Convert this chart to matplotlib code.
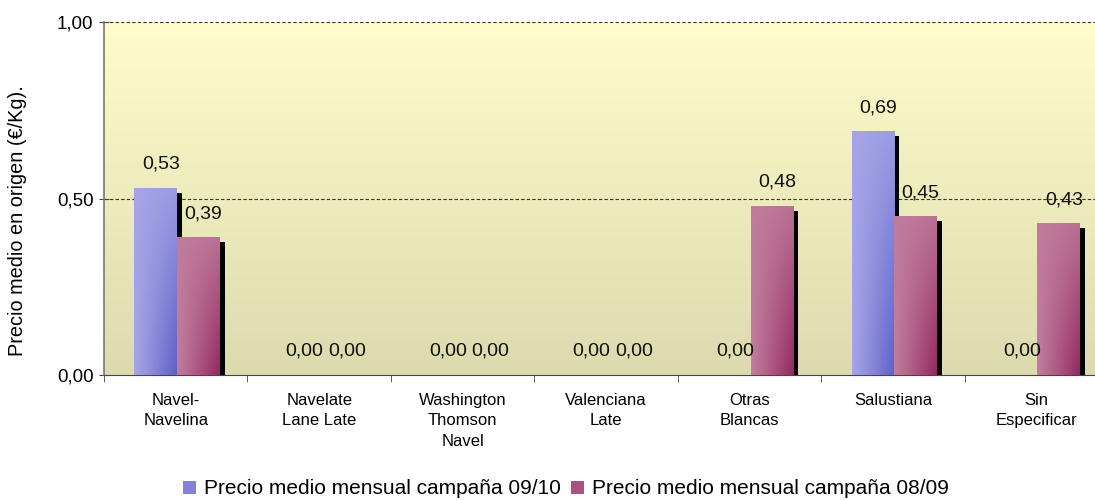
import matplotlib.pyplot as plt
from matplotlib.patches import Patch
import numpy as np

plt.rcParams['font.family'] = ['Liberation Sans', 'DejaVu Sans']

categories = ['Navel-\nNavelina', 'Navelate\nLane Late', 'Washington\nThomson\nNavel',
              'Valenciana\nLate', 'Otras\nBlancas', 'Salustiana', 'Sin\nEspecificar']
precio_0910 = [0.53, 0.00, 0.00, 0.00, 0.00, 0.69, 0.00]
precio_0809 = [0.39, 0.00, 0.00, 0.00, 0.48, 0.45, 0.43]
series_names = ['Precio medio mensual campaña 09/10', 'Precio medio mensual campaña 08/09']
yticks = [0.0, 0.5, 1.0]

# light / dark ends of the bar gradients
blue_light, blue_dark = np.array([165, 165, 230]) / 255, np.array([95, 95, 200]) / 255
pink_light, pink_dark = np.array([192, 125, 155]) / 255, np.array([148, 40, 98]) / 255


def gradient_img(light, dark, nx=40, ny=60):
    xf = np.linspace(0, 1, nx)[None, :]
    yf = np.linspace(0, 1, ny)[:, None]
    f = np.clip(xf ** 1.1 * (1 - 0.85 * yf), 0, 1)
    return light[None, None, :] + (dark - light)[None, None, :] * f[:, :, None]


fig = plt.figure(figsize=(10.95, 5.0), dpi=100)
ax = fig.add_axes([104 / 1095, 125 / 500, 1004 / 1095, 353 / 500])

# yellow background gradient
bg = np.linspace(0, 1, 100)[:, None]
top, bottom = np.array([254, 252, 202]) / 255, np.array([220, 219, 174]) / 255
bg_img = bottom[None, None, :] + (top - bottom)[None, None, :] * bg[:, :, None]
ax.imshow(bg_img, extent=[0, 1, 0, 1], transform=ax.transAxes, aspect='auto',
          origin='lower', zorder=0)

x = np.arange(len(categories))
w = 0.295
offsets = [-0.14, 0.155]
sx, sy = 5.5 / 143.4, 5 / 353  # shadow offset in data units

for vals, off, (lt, dk) in zip([precio_0910, precio_0809], offsets,
                                [(blue_light, blue_dark), (pink_light, pink_dark)]):
    vals = np.array(vals)
    # shadow
    sh = np.where(vals > 0, vals - sy, 0)
    ax.bar(x + off + sx, sh, w, color='black', zorder=2)
    bars = ax.bar(x + off, vals, w, color='none', zorder=3)
    img = gradient_img(lt, dk)
    for b, v in zip(bars, vals):
        if v <= 0:
            continue
        x0, x1 = b.get_x(), b.get_x() + b.get_width()
        im = ax.imshow(img, extent=[x0, x1, 0, v], aspect='auto', origin='lower', zorder=3)
        im.set_clip_path(b)
    for xi, v in zip(x + off, vals):
        ax.annotate(f'{v:.2f}'.replace('.', ','), (xi, v), xytext=(4, 17),
                    textcoords='offset points', ha='center', va='center', fontsize=14,
                    color='#111111', zorder=5)

ax.set_xlim(-0.5, len(categories) - 0.5)
ax.set_ylim(0, 1)
ax.set_yticks(yticks)
ax.set_yticklabels([f'{t:.2f}'.replace('.', ',') for t in yticks], fontsize=13.5)
for t in [0.5, 1.0]:
    ax.axhline(t, color='#333333', lw=0.8, ls=(0, (3, 2)), zorder=1)

ax.set_xticks(x)
ax.set_xticklabels(categories, fontsize=12, linespacing=1.45)
ax.tick_params(axis='x', length=0, pad=13)
ax.set_xticks(np.arange(-0.5, len(categories)), minor=True)
ax.tick_params(axis='x', which='minor', length=5, color='#444444', direction='out')
ax.tick_params(axis='y', length=7, direction='inout', color='#444444', pad=4)

for s in ['top', 'right']:
    ax.spines[s].set_visible(False)
ax.spines['left'].set_color('#777777')
ax.spines['left'].set_linewidth(1.2)
ax.spines['bottom'].set_color('#444444')

ax.set_ylabel('Precio medio en origen (€/Kg).', fontsize=14.3)
ax.yaxis.set_label_coords(-0.0765, 0.436)

handles = [Patch(facecolor=(blue_light + blue_dark) / 2), Patch(facecolor=(pink_light + pink_dark) / 2)]
fig.legend(handles, series_names, loc='center', bbox_to_anchor=(566 / 1095, 1 - 489 / 500),
           ncol=2, frameon=False, fontsize=15, handlelength=0.6, handleheight=0.6,
           handletextpad=0.4, columnspacing=0.5)

fig.savefig('out.png', dpi=100)
